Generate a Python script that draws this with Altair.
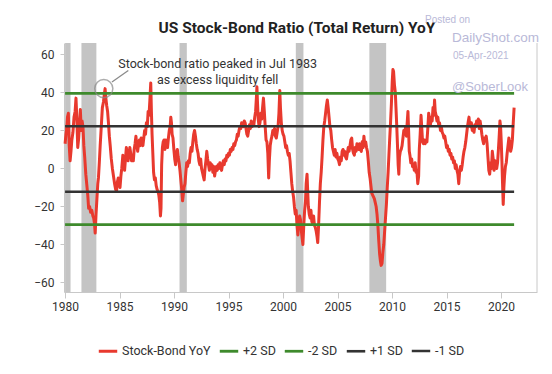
import altair as alt
import pandas as pd

# ---- data ----
years = [
    1980.00, 1980.08, 1980.15, 1980.22, 1980.30, 1980.38, 1980.46, 1980.54, 1980.62, 1980.72,
    1980.82, 1980.92, 1981.00, 1981.08, 1981.16, 1981.25, 1981.33, 1981.40, 1981.48, 1981.56,
    1981.64, 1981.72, 1981.80, 1981.90, 1982.00, 1982.08, 1982.16, 1982.25, 1982.34, 1982.45,
    1982.55, 1982.62, 1982.70, 1982.76, 1982.84, 1982.92, 1983.00, 1983.06, 1983.14, 1983.22,
    1983.32, 1983.42, 1983.52, 1983.60, 1983.67, 1983.74, 1983.82, 1983.90, 1983.98, 1984.06,
    1984.14, 1984.24, 1984.34, 1984.44, 1984.54, 1984.64, 1984.72, 1984.80, 1984.88, 1984.96,
    1985.04, 1985.12, 1985.20, 1985.30, 1985.38, 1985.46, 1985.54, 1985.62, 1985.70, 1985.78,
    1985.86, 1985.94, 1986.02, 1986.10, 1986.18, 1986.26, 1986.34, 1986.42, 1986.50, 1986.58,
    1986.66, 1986.74, 1986.82, 1986.90, 1986.98, 1987.06, 1987.14, 1987.22, 1987.30, 1987.38,
    1987.46, 1987.54, 1987.62, 1987.70, 1987.78, 1987.86, 1987.92, 1987.98, 1988.05, 1988.12,
    1988.20, 1988.28, 1988.36, 1988.44, 1988.52, 1988.60, 1988.68, 1988.75, 1988.80, 1988.86,
    1988.93, 1989.00, 1989.08, 1989.16, 1989.24, 1989.33, 1989.40, 1989.48, 1989.56, 1989.64,
    1989.70, 1989.76, 1989.82, 1989.90, 1989.98, 1990.06, 1990.14, 1990.22, 1990.30, 1990.38,
    1990.46, 1990.54, 1990.62, 1990.70, 1990.78, 1990.84, 1990.92, 1991.00, 1991.08, 1991.16,
    1991.24, 1991.32, 1991.40, 1991.48, 1991.56, 1991.64, 1991.72, 1991.80, 1991.88, 1991.96,
    1992.04, 1992.12, 1992.20, 1992.28, 1992.36, 1992.44, 1992.52, 1992.60, 1992.68, 1992.76,
    1992.84, 1992.92, 1993.00, 1993.08, 1993.16, 1993.24, 1993.32, 1993.40, 1993.48, 1993.56,
    1993.64, 1993.72, 1993.80, 1993.88, 1993.96, 1994.04, 1994.12, 1994.20, 1994.28, 1994.36,
    1994.44, 1994.52, 1994.60, 1994.68, 1994.76, 1994.84, 1994.92, 1995.00, 1995.08, 1995.16,
    1995.24, 1995.32, 1995.40, 1995.48, 1995.56, 1995.64, 1995.72, 1995.80, 1995.88, 1995.96,
    1996.04, 1996.12, 1996.20, 1996.28, 1996.36, 1996.44, 1996.52, 1996.60, 1996.68, 1996.76,
    1996.84, 1996.92, 1997.00, 1997.08, 1997.16, 1997.24, 1997.32, 1997.40, 1997.48, 1997.56,
    1997.60, 1997.66, 1997.72, 1997.80, 1997.88, 1997.96, 1998.04, 1998.12, 1998.20, 1998.28,
    1998.36, 1998.44, 1998.52, 1998.60, 1998.68, 1998.74, 1998.82, 1998.90, 1998.98, 1999.06,
    1999.14, 1999.22, 1999.30, 1999.38, 1999.46, 1999.54, 1999.62, 1999.70, 1999.76, 1999.84,
    1999.92, 2000.00, 2000.08, 2000.16, 2000.24, 2000.32, 2000.40, 2000.48, 2000.56, 2000.64,
    2000.72, 2000.80, 2000.88, 2000.96, 2001.04, 2001.12, 2001.20, 2001.28, 2001.36, 2001.44,
    2001.52, 2001.60, 2001.68, 2001.76, 2001.82, 2001.90, 2001.98, 2002.06, 2002.12, 2002.20,
    2002.26, 2002.32, 2002.40, 2002.48, 2002.56, 2002.64, 2002.72, 2002.80, 2002.88, 2002.96,
    2003.04, 2003.12, 2003.18, 2003.26, 2003.34, 2003.42, 2003.50, 2003.58, 2003.66, 2003.74,
    2003.82, 2003.90, 2003.98, 2004.06, 2004.14, 2004.22, 2004.30, 2004.38, 2004.46, 2004.54,
    2004.62, 2004.70, 2004.78, 2004.86, 2004.94, 2005.02, 2005.10, 2005.18, 2005.26, 2005.34,
    2005.42, 2005.50, 2005.58, 2005.66, 2005.74, 2005.82, 2005.90, 2005.98, 2006.06, 2006.14,
    2006.22, 2006.30, 2006.38, 2006.46, 2006.54, 2006.62, 2006.70, 2006.78, 2006.86, 2006.94,
    2007.02, 2007.10, 2007.18, 2007.26, 2007.34, 2007.42, 2007.50, 2007.58, 2007.66, 2007.74,
    2007.82, 2007.90, 2007.98, 2008.06, 2008.14, 2008.22, 2008.30, 2008.38, 2008.46, 2008.54,
    2008.62, 2008.70, 2008.78, 2008.86, 2008.94, 2009.00, 2009.08, 2009.16, 2009.24, 2009.32,
    2009.40, 2009.48, 2009.56, 2009.64, 2009.72, 2009.78, 2009.86, 2009.94, 2010.02, 2010.08,
    2010.14, 2010.22, 2010.30, 2010.36, 2010.42, 2010.50, 2010.56, 2010.62, 2010.68, 2010.76,
    2010.84, 2010.92, 2011.00, 2011.08, 2011.16, 2011.24, 2011.32, 2011.40, 2011.46, 2011.52,
    2011.58, 2011.64, 2011.72, 2011.80, 2011.88, 2011.96, 2012.04, 2012.12, 2012.20, 2012.28,
    2012.36, 2012.44, 2012.50, 2012.58, 2012.66, 2012.72, 2012.80, 2012.88, 2012.96, 2013.04,
    2013.12, 2013.20, 2013.28, 2013.36, 2013.44, 2013.52, 2013.60, 2013.68, 2013.76, 2013.84,
    2013.90, 2013.96, 2014.04, 2014.12, 2014.20, 2014.28, 2014.36, 2014.44, 2014.52, 2014.60,
    2014.68, 2014.76, 2014.84, 2014.92, 2015.00, 2015.08, 2015.16, 2015.24, 2015.32, 2015.40,
    2015.48, 2015.56, 2015.64, 2015.72, 2015.80, 2015.88, 2015.96, 2016.04, 2016.12, 2016.20,
    2016.28, 2016.36, 2016.44, 2016.52, 2016.60, 2016.68, 2016.76, 2016.84, 2016.92, 2017.00,
    2017.06, 2017.12, 2017.20, 2017.28, 2017.36, 2017.44, 2017.52, 2017.60, 2017.68, 2017.76,
    2017.84, 2017.92, 2018.00, 2018.08, 2018.16, 2018.24, 2018.32, 2018.40, 2018.48, 2018.56,
    2018.64, 2018.72, 2018.80, 2018.88, 2018.96, 2019.04, 2019.12, 2019.20, 2019.28, 2019.36,
    2019.44, 2019.52, 2019.60, 2019.68, 2019.76, 2019.84, 2019.90, 2019.96, 2020.02, 2020.08,
    2020.14, 2020.20, 2020.26, 2020.32, 2020.40, 2020.48, 2020.56, 2020.64, 2020.72, 2020.80,
    2020.88, 2020.96, 2021.04, 2021.12, 2021.20,
]
values = [
    13, 18, 21, 27, 29, 12, 4, 9, 15, 19,
    27, 30, 37, 26, 11, 16, 24, 31, 20, 25,
    22, 12, 6, -3, -9, -14, -21, -20, -23, -22,
    -25, -26, -29, -34, -24, -16, -8, -5, 3, 12,
    22, 32, 35, 39, 42, 37, 33, 30, 24, 17,
    12, 5, 0, -4, -8, -11, -12, -7, -5, -8,
    -10, -4, 0, 7, 2, -1, 5, 11, 7, 4,
    8, 11, 8, 4, 6, 4, 10, 13, 17, 12,
    9, 13, 15, 12, 16, 14, 12, 16, 20, 18,
    24, 22, 30, 28, 36, 45, 30, 18, 8, -2,
    -6, -5, -9, -11, -12, -14, -18, -25, -21, 2,
    11, 14, 15, 10, 15, 13, 11, 16, 20, 22,
    27, 24, 18, 16, 10, 5, 2, 8, 10, 6,
    3, -1, -6, -11, -17, -14, -10, -8, -2, 3,
    1, 4, 3, 8, 11, 9, 14, 18, 20, 17,
    13, 10, 8, 4, 2, 5, 0, -2, -4, -6,
    0, 4, 9, 5, 2, -1, 3, 0, 2, -2,
    1, -4, -1, 1, -1, 2, 0, 3, 1, -1,
    2, 4, 2, 5, 4, 7, 6, 8, 7, 10,
    9, 11, 10, 13, 12, 14, 15, 18, 17, 20,
    22, 21, 24, 23, 22, 25, 24, 21, 18, 17,
    20, 23, 21, 25, 22, 24, 23, 27, 30, 38,
    43, 34, 26, 22, 24, 29, 26, 32, 37, 30,
    22, 15, 14, 8, -5, 4, 12, 15, 17, 20,
    18, 21, 17, 16, 19, 22, 29, 41, 32, 24,
    20, 18, 17, 14, 11, 12, 9, 7, 8, 4,
    -2, -8, -12, -15, -20, -24, -22, -30, -35, -28,
    -25, -27, -33, -37, -40, -30, -22, -17, -8, -3,
    -12, -20, -24, -26, -22, -28, -29, -25, -30, -31,
    -33, -36, -39, -30, -18, -8, -2, 6, 15, 22,
    25, 29, 33, 36, 32, 27, 22, 20, 15, 11,
    9, 7, 10, 6, 8, 5, 4, 2, 6, 4,
    9, 10, 7, 9, 6, 5, 8, 11, 9, 12,
    15, 16, 10, 8, 7, 11, 9, 13, 12, 10,
    13, 10, 9, 14, 11, 17, 12, 14, 11, 9,
    4, -2, -5, -9, -13, -14, -15, -16, -18, -20,
    -24, -30, -38, -45, -49, -51, -50, -44, -40, -33,
    -26, -19, -10, -2, 8, 15, 24, 34, 46, 52,
    51, 44, 40, 32, 24, 12, 2, -3, 6, 9,
    10, 12, 16, 20, 18, 22, 17, 25, 30, 20,
    9, 7, 3, 5, 1, 2, -1, 3, -2, -1,
    -8, -4, 10, 18, 28, 22, 14, 13, 15, 13,
    15, 14, 21, 29, 26, 23, 27, 25, 32, 28,
    36, 30, 28, 25, 27, 23, 24, 20, 22, 19,
    18, 16, 17, 14, 11, 12, 9, 10, 7, 8,
    5, 6, 3, 4, 0, 2, -1, -3, -8, -2,
    1, -1, 2, 6, 9, 11, 14, 18, 22, 25,
    27, 23, 22, 24, 20, 22, 19, 23, 22, 25,
    23, 26, 21, 25, 22, 18, 15, 13, 16, 15,
    17, 13, 6, -1, -3, 3, 0, 9, 5, -1,
    4, 2, 0, 3, 10, 18, 25, 22, 14, 4,
    -8, -19, -10, -4, 1, 3, 8, 12, 16, 13,
    9, 11, 15, 24, 32,
]

series_names = ["Stock-Bond YoY", "+2 SD", "-2 SD", "+1 SD", "-1 SD"]
series_colors = ["#e8392e", "#3e8a2c", "#3e8a2c", "#333333", "#333333"]
series_widths = [3.0, 2.5, 2.5, 1.2, 1.2]
sd_levels = [39.5, -29.5, 22.2, -12.2]
sd_span = [1980.0, 2021.2]

rec_start = [1980.0, 1981.5, 1990.5, 2001.17, 2007.92]
rec_end = [1980.5, 1982.87, 1991.17, 2001.87, 2009.46]

x_ticks = [1980, 1985, 1990, 1995, 2000, 2005, 2010, 2015, 2020]
y_ticks = list(range(-60, 61, 10))

title_text = "US Stock-Bond Ratio (Total Return) YoY"
note_text = ["Stock-bond ratio peaked in Jul 1983", "as excess liquidity fell"]
note_year, note_value = 1994.0, 55.0
peak_year, peak_value = 1983.55, 42
leader = {"x": 1984.3, "y": 45.5, "x2": 1985.8, "y2": 51.5}

# ---- tables ----
main_df = pd.DataFrame({"t": years, "v": values, "series": series_names[0]})
sd_rows = []
for name, lvl in zip(series_names[1:], sd_levels):
    for t in sd_span:
        sd_rows.append({"t": t, "v": lvl, "series": name})
sd_df = pd.DataFrame(sd_rows)
rec_df = pd.DataFrame({"s": rec_start, "e": rec_end})
one_df = pd.DataFrame({"k": [0]})

W, H = 473, 249
XD = [1979.9, 2023.3]
YD = [-65, 66]

xs = alt.Scale(domain=XD, nice=False, zero=False)
ys = alt.Scale(domain=YD, nice=False, zero=False)

legend = alt.Legend(
    title=None, orient="none", direction="horizontal", legendX=33, legendY=297,
    symbolType="stroke", symbolSize=340, labelFontSize=12.5, labelFont="Roboto",
    labelColor="#333333", columnPadding=3, labelOffset=3, padding=0, columns=5,
)
color_enc = alt.Color(
    "series:N",
    scale=alt.Scale(domain=series_names, range=series_colors),
    legend=legend,
)
width_enc = alt.StrokeWidth(
    "series:N",
    scale=alt.Scale(domain=series_names, range=series_widths),
    legend=legend,
)

bars = alt.Chart(rec_df).mark_rect(color="#c4c4c4").encode(
    x=alt.X("s:Q", scale=xs, axis=alt.Axis(
        values=x_ticks, format="d", title=None, tickSize=6, labelPadding=3,
        domainColor="#c8c8c8", tickColor="#c8c8c8",
    )),
    x2="e:Q",
    y=alt.value(0),
    y2=alt.value(H),
)

main_line = alt.Chart(main_df).mark_line(strokeJoin="round").encode(
    x=alt.X("t:Q", scale=xs),
    y=alt.Y("v:Q", scale=ys, axis=alt.Axis(
        values=y_ticks, title=None, tickSize=4, labelPadding=6,
        labelExpr="datum.value % 20 == 0 ? datum.label : ''",
        domainColor="#c8c8c8", tickColor="#c8c8c8",
    )),
    color=color_enc,
    strokeWidth=width_enc,
)

sd_lines = alt.Chart(sd_df).mark_line().encode(
    x=alt.X("t:Q", scale=xs), y=alt.Y("v:Q", scale=ys),
    color=color_enc, strokeWidth=width_enc, detail="series:N",
)

right_border = alt.Chart(one_df).mark_rule(color="#c8c8c8", strokeWidth=1).encode(
    x=alt.value(W), y=alt.value(0), y2=alt.value(H)
)

circle = alt.Chart(pd.DataFrame({"t": [peak_year], "v": [peak_value]})).mark_point(
    shape="circle", filled=False, size=330, color="#8a8a8a", strokeWidth=1.5
).encode(x=alt.X("t:Q", scale=xs), y=alt.Y("v:Q", scale=ys))

leader_line = alt.Chart(pd.DataFrame([leader])).mark_rule(color="#8a8a8a", strokeWidth=1.3).encode(
    x=alt.X("x:Q", scale=xs), y=alt.Y("y:Q", scale=ys), x2="x2:Q", y2="y2:Q"
)

note = alt.Chart(pd.DataFrame({"t": [note_year], "v": [note_value], "txt": [note_text]})).mark_text(
    font="Roboto", fontSize=12.5, color="#333333", align="center", baseline="middle", lineHeight=16
).encode(x=alt.X("t:Q", scale=xs), y=alt.Y("v:Q", scale=ys), text="txt")

title = alt.Chart(one_df).mark_text(
    text=title_text, font="Roboto", fontSize=15.5, fontWeight="bold", color="#222222",
    align="center", baseline="middle",
).encode(x=alt.value(233), y=alt.value(-15))

wm_text = ["Posted on", "DailyShot.com", "05-Apr-2021", "@SoberLook"]
wm_x = [361, 388, 389, 388]
wm_y = [-23, -5, 13, 44]
wm_size = [10, 13.5, 10, 13]
wm_layers = []
for t, x, y, s in zip(wm_text, wm_x, wm_y, wm_size):
    wm_layers.append(
        alt.Chart(one_df).mark_text(
            text=t, font="Liberation Sans", fontSize=s, fontWeight="normal",
            color="#b9b9d8", align="left", baseline="middle"
        ).encode(x=alt.value(x), y=alt.value(y))
    )

chart = alt.layer(
    bars, main_line, sd_lines, right_border, circle, leader_line, note,
    title, *wm_layers
).properties(
    width=W, height=H,
    autosize=alt.AutoSizeParams(type="none"),
    padding={"left": 56, "top": 35, "right": 7, "bottom": 74},
).configure_view(stroke=None).configure_axis(
    grid=False, labelFont="Roboto", labelFontSize=12, labelColor="#333333"
)

chart.save("out.html", embed_options={"renderer": "svg", "actions": False})
